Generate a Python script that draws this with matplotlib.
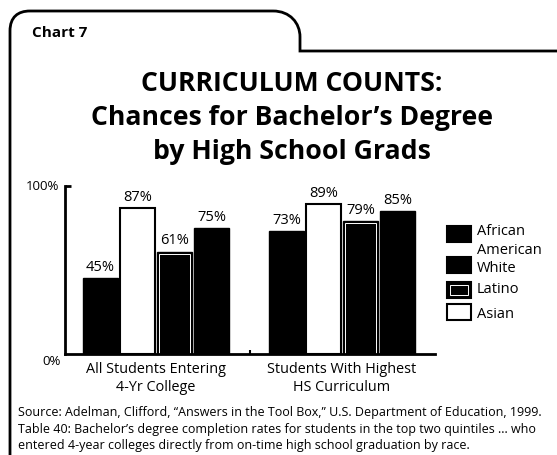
import matplotlib
matplotlib.use("Agg")
import matplotlib.pyplot as plt
from matplotlib.path import Path
from matplotlib.patches import PathPatch, Rectangle
from matplotlib.transforms import Affine2D
import numpy as np

plt.rcParams['font.family'] = ['Open Sans', 'DejaVu Sans']

# ---- data ----
groups = ["All Students Entering\n4-Yr College", "Students With Highest\nHS Curriculum"]
african_american = [45, 73]
asian = [87, 89]
latino = [61, 79]
white = [75, 85]
series_names = ["African\nAmerican", "White", "Latino", "Asian"]

W, H = 557, 456
fig = plt.figure(figsize=(W / 100, H / 100), dpi=100)
pix = Affine2D().scale(1 / W, -1 / H).translate(0, 1) + fig.transFigure

# frame (tab shape)
verts = [(10, 456), (10, 32), (10, 18), (18, 12), (30, 12), (273, 12),
         (290, 12), (300, 24), (300, 38), (300, 52), (557, 52)]
codes = [Path.MOVETO, Path.LINETO, Path.CURVE4, Path.CURVE4, Path.CURVE4, Path.LINETO,
         Path.CURVE4, Path.CURVE4, Path.CURVE4, Path.LINETO, Path.LINETO]
fig.patches.append(PathPatch(Path(verts, codes), transform=pix, fill=False,
                             lw=2.0, edgecolor='black'))

fig.text(32 / W, 1 - 33 / H, "Chart 7", fontsize=11, fontweight='bold',
         ha='left', va='center')
title_lines = ["CURRICULUM COUNTS:", "Chances for Bachelor\u2019s Degree",
               "by High School Grads"]
for i, t in enumerate(title_lines):
    fig.text(292 / W, 1 - (84 + 34 * i) / H, t, fontsize=19.2, fontweight='bold',
             ha='center', va='center')

ax = fig.add_axes([65 / W, 1 - 355 / H, 370 / W, 168 / H])
x = np.arange(len(groups))
w = 0.188
step = 0.199
ax.bar(x - 1.5 * step, african_american, w, color='black', edgecolor='black', lw=1)
ax.bar(x - 0.5 * step, asian, w, color='white', edgecolor='black', lw=1.5)
ax.bar(x + 0.5 * step, latino, w, color='black', edgecolor='black', lw=1)
ax.bar(x + 0.5 * step, np.array(latino) - 1.2, w - 0.024, color='none',
       edgecolor='white', lw=0.7)
ax.bar(x + 1.5 * step, white, w, color='black', edgecolor='black', lw=1)

for off, vals in zip([-1.5, -0.5, 0.5, 1.5], [african_american, asian, latino, white]):
    for xi, v in zip(x, vals):
        ax.text(xi + off * step, v + 2.5, f"{v}%", ha='center', va='bottom', fontsize=10.5)

ax.set_xlim(-0.489, 1.5)
ax.set_ylim(0, 100)
for s in ['top', 'right']:
    ax.spines[s].set_visible(False)
ax.spines['left'].set_linewidth(2)
ax.spines['bottom'].set_linewidth(2)
ax.set_xticks([0.505])
ax.set_xticklabels([])
ax.tick_params(axis='x', direction='in', length=3, width=1.5)
ax.set_yticks([100])
ax.set_yticklabels([])
ax.tick_params(axis='y', direction='in', length=4, width=2)
ax.text(-0.016, 100, "100%", transform=ax.get_yaxis_transform(), ha='right',
        va='center', fontsize=9.5)
ax.text(-0.012, 0, "0%", transform=ax.get_yaxis_transform(), ha='right',
        va='top', fontsize=9.5)
for xi, g in zip(x, groups):
    ax.text(xi, -4, g, ha='center', va='top', fontsize=10.4, linespacing=1.3)

# legend
leg_y = [227, 258, 283, 305]
leg_txt_y = [241, 268, 290, 314]
for i, (yy, name) in enumerate(zip(leg_y, series_names)):
    fc = 'white' if name == 'Asian' else 'black'
    fig.patches.append(Rectangle((447, yy + 16), 24, -16, transform=pix,
                                 facecolor=fc, edgecolor='black', lw=1.5))
    if name == 'Latino':
        fig.patches.append(Rectangle((450, yy + 13), 18, -10, transform=pix,
                                     facecolor='none', edgecolor='white', lw=0.7))
    fig.text(477 / W, 1 - leg_txt_y[i] / H, name, fontsize=10.5, ha='left',
             va='center', linespacing=1.3)

src = ["Source: Adelman, Clifford, \u201cAnswers in the Tool Box,\u201d U.S. Department of Education, 1999.",
       "Table 40: Bachelor\u2019s degree completion rates for students in the top two quintiles ... who",
       "entered 4-year colleges directly from on-time high school graduation by race."]
for i, s in enumerate(src):
    fig.text(18 / W, 1 - (413 + 16.5 * i) / H, s, fontsize=9.0, ha='left', va='center')

fig.savefig("out.png", dpi=100)
